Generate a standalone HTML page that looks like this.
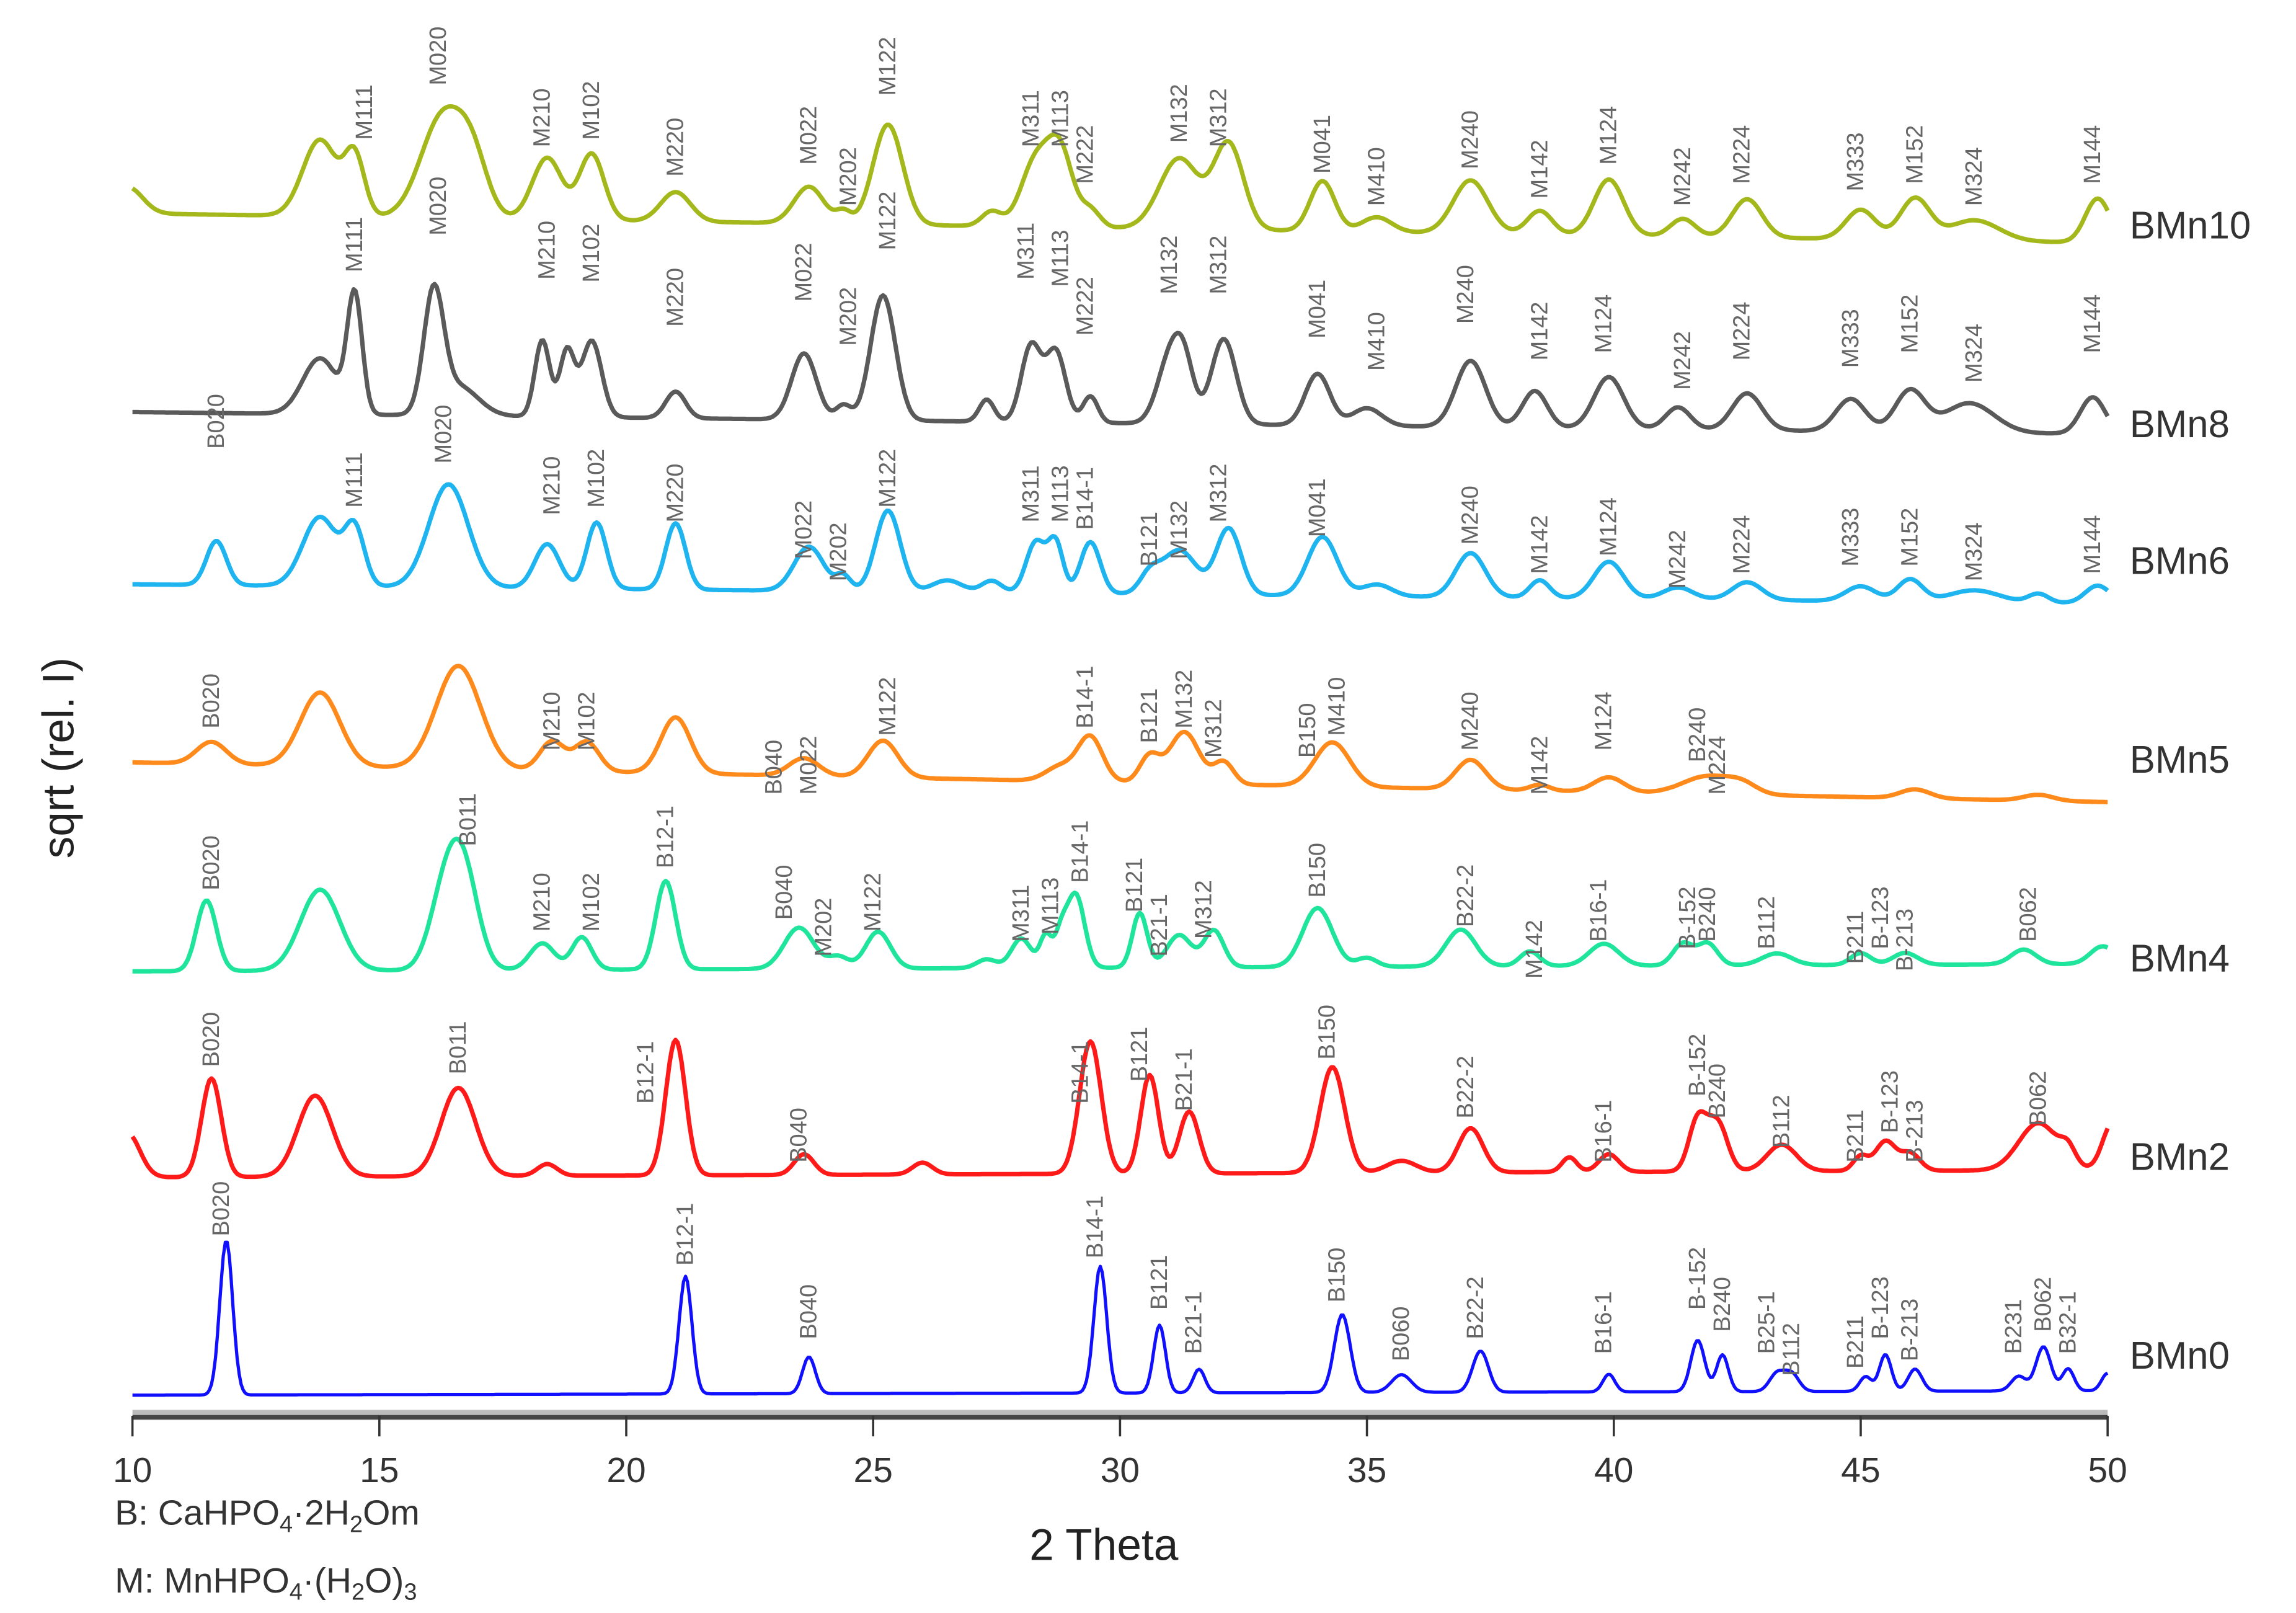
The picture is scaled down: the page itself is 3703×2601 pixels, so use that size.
<!DOCTYPE html>
<html><head><meta charset="utf-8">
<style>
html,body{margin:0;padding:0;background:#fff;}
svg{display:block;}
text{font-family:"Liberation Sans",sans-serif;}
</style></head>
<body>
<svg id="chart" width="3703" height="2601" viewBox="0 0 1560 1096" preserveAspectRatio="none" xmlns="http://www.w3.org/2000/svg">
  <rect width="1560" height="1096" fill="#fff"/>
  <g id="series-layer"></g>
  <g id="label-layer"></g>
  <g id="axis-layer"></g>
  <text transform="translate(50,515) rotate(-90)" text-anchor="middle" font-size="30" fill="#222">sqrt (rel. I)</text>
  <text x="750" y="1060" text-anchor="middle" font-size="30" fill="#222">2 Theta</text>
  <text x="78" y="1036" font-size="24" fill="#333">B: CaHPO<tspan font-size="16" dy="5">4</tspan><tspan dy="-5">·2H</tspan><tspan font-size="16" dy="5">2</tspan><tspan dy="-5">Om</tspan></text>
  <text x="78" y="1082" font-size="24" fill="#333">M: MnHPO<tspan font-size="16" dy="5">4</tspan><tspan dy="-5">·(H</tspan><tspan font-size="16" dy="5">2</tspan><tspan dy="-5">O)</tspan><tspan font-size="16" dy="5">3</tspan></text>
</svg>
<script>
// ---- data ----
const xTicks = [10,15,20,25,30,35,40,45,50];
const seriesNames = ["BMn10","BMn8","BMn6","BMn5","BMn4","BMn2","BMn0"];
const seriesColors = ["#a4b81c","#5a5a5a","#1db4f0","#ff8a1c","#1ee59b","#ff1a1a","#1010ff"];
const seriesLabelY = [162,297,390,525,660,795,930];
const baseStart = [145,280,397,518,660,800,948];
const baseEnd   = [165,295,410,545,655,795,945];

const pos10 = [9.9,13.8,14.5,16.3,16.9,18.4,19.3,21.0,23.7,24.4,25.3,27.4,28.3,28.8,29.4,31.2,32.2,34.1,35.2,37.1,38.5,39.9,41.4,42.7,45.0,46.1,47.3,49.8];
const hgt10 = [18,52,40,70,30,42,45,20,25,8,68,10,45,48,12,48,58,34,10,36,16,38,12,26,20,28,14,30];
const wid10 = [0.3,0.35,0.2,0.45,0.3,0.3,0.25,0.3,0.3,0.15,0.3,0.2,0.3,0.25,0.2,0.4,0.3,0.25,0.3,0.35,0.25,0.3,0.25,0.3,0.3,0.3,0.5,0.25];

const pos8 = [13.8,14.5,16.1,16.6,18.3,18.8,19.3,21.0,23.6,24.4,25.2,27.3,28.2,28.7,29.4,31.0,31.3,32.1,34.0,35.0,37.1,38.4,39.9,41.3,42.7,44.8,46.0,47.2,49.7];
const hgt8 = [38,80,80,20,52,45,52,18,45,10,85,15,52,48,18,42,35,58,35,12,45,25,35,15,25,22,28,20,25];
const wid8 = [0.35,0.15,0.2,0.4,0.15,0.15,0.2,0.2,0.25,0.15,0.25,0.15,0.2,0.2,0.15,0.25,0.2,0.25,0.25,0.3,0.3,0.25,0.3,0.25,0.3,0.3,0.3,0.5,0.25];

const pos6 = [11.7,13.8,14.5,16.4,18.4,19.4,21.0,23.7,24.4,25.3,26.5,27.4,28.3,28.7,29.4,30.6,31.2,32.2,34.1,35.2,37.1,38.5,39.9,41.3,42.7,45.0,46.0,47.3,48.6,49.8];
const hgt6 = [30,47,38,70,30,45,45,30,10,55,8,8,35,33,35,12,30,45,40,8,30,12,25,8,12,10,15,8,6,12];
const wid6 = [0.2,0.35,0.2,0.4,0.25,0.2,0.2,0.3,0.15,0.25,0.3,0.2,0.2,0.15,0.2,0.2,0.35,0.25,0.3,0.3,0.3,0.2,0.3,0.3,0.3,0.3,0.25,0.5,0.2,0.25];

const pos5 = [11.6,13.8,16.6,18.5,19.2,21.0,23.6,25.2,28.8,29.4,30.6,31.3,32.1,34.3,37.1,38.5,39.9,41.9,42.6,46.1,48.6];
const hgt5 = [15,50,70,20,20,38,12,25,10,30,18,35,15,30,20,4,10,12,6,6,4];
const wid5 = [0.3,0.4,0.45,0.25,0.25,0.3,0.3,0.3,0.3,0.25,0.2,0.3,0.2,0.35,0.3,0.2,0.3,0.5,0.3,0.3,0.3];

const pos4 = [11.5,13.8,16.3,16.7,18.3,19.1,20.8,23.5,24.3,25.1,27.3,28.0,28.5,28.8,29.1,30.4,31.2,31.9,34.0,35.0,36.9,38.3,39.8,41.4,41.9,43.3,45.0,45.9,48.3,49.9];
const hgt4 = [48,55,45,65,18,22,60,28,8,25,6,20,22,20,50,37,22,25,40,6,25,10,15,15,15,8,8,8,10,12];
const wid4 = [0.2,0.4,0.3,0.3,0.25,0.2,0.2,0.3,0.2,0.25,0.2,0.2,0.12,0.12,0.18,0.15,0.25,0.2,0.3,0.2,0.3,0.2,0.3,0.2,0.2,0.3,0.2,0.25,0.25,0.25];

const pos2 = [9.9,11.6,13.7,16.6,18.4,21.0,23.6,26.0,29.4,30.6,31.4,34.3,35.7,37.1,39.1,39.9,41.7,42.1,43.4,45.0,45.5,46.0,48.6,49.2,50.1];
const hgt2 = [30,67,55,60,8,92,14,8,90,67,42,72,8,30,10,12,35,33,18,10,20,12,32,10,32];
const wid2 = [0.25,0.2,0.35,0.35,0.2,0.2,0.2,0.2,0.22,0.18,0.2,0.25,0.3,0.25,0.15,0.2,0.18,0.2,0.3,0.15,0.2,0.2,0.4,0.15,0.2];

const pos0 = [11.9,21.2,23.7,29.6,30.8,31.6,34.5,35.7,37.3,39.9,41.7,42.2,43.3,43.6,45.1,45.5,46.1,48.2,48.7,49.2,50.0];
const hgt0 = [105,80,25,86,46,16,53,12,28,12,35,25,12,12,10,25,15,10,30,15,12];
const wid0 = [0.13,0.13,0.13,0.13,0.12,0.12,0.16,0.2,0.16,0.12,0.14,0.12,0.15,0.15,0.12,0.12,0.14,0.15,0.15,0.12,0.12];

const peakPos = [pos10,pos8,pos6,pos5,pos4,pos2,pos0];
const peakHgt = [hgt10,hgt8,hgt6,hgt5,hgt4,hgt2,hgt0];
const peakWid = [wid10,wid8,wid6,wid5,wid4,wid2,wid0];

const lab10 = ["M111","M020","M210","M102","M220","M022","M202","M122","M311","M113","M222","M132","M312","M041","M410","M240","M142","M124","M242","M224","M333","M152","M324","M144"];
const labX10 = [14.7,16.2,18.3,19.3,21.0,23.7,24.5,25.3,28.2,28.8,29.3,31.2,32.0,34.1,35.2,37.1,38.5,39.9,41.4,42.6,44.9,46.1,47.3,49.7];
const labY10 = [95,58,100,95,120,112,140,65,100,100,125,97,100,118,140,115,135,112,140,125,130,125,140,125];

const lab8 = ["M111","M020","M210","M102","M220","M022","M202","M122","M311","M113","M222","M132","M312","M041","M410","M240","M142","M124","M242","M224","M333","M152","M324","M144"];
const labX8 = [14.5,16.2,18.4,19.3,21.0,23.6,24.5,25.3,28.1,28.8,29.3,31.0,32.0,34.0,35.2,37.0,38.5,39.8,41.4,42.6,44.8,46.0,47.3,49.7];
const labY8 = [185,160,190,192,222,205,235,170,190,195,228,200,200,230,252,220,245,240,265,245,250,240,260,240];

const lab6 = ["B020","M111","M020","M210","M102","M220","M022","M202","M122","M311","M113","B14-1","B121","M132","M312","M041","M240","M142","M124","M242","M224","M333","M152","M324","M144"];
const labX6 = [11.7,14.5,16.3,18.5,19.4,21.0,23.6,24.3,25.3,28.2,28.8,29.3,30.6,31.2,32.0,34.0,37.1,38.5,39.9,41.3,42.6,44.8,46.0,47.3,49.7];
const labY6 = [305,345,315,350,345,355,380,395,345,355,355,360,385,380,355,365,370,390,378,400,390,385,385,395,390];

const lab5 = ["B020","M210","M102","B040","M022","M122","B14-1","B121","M132","M312","B150","M410","M240","M142","M124","B240","M224"];
const labX5 = [11.6,18.5,19.2,23.0,23.7,25.3,29.3,30.6,31.3,31.9,33.8,34.4,37.1,38.5,39.8,41.7,42.1];
const labY5 = [495,510,510,540,540,500,495,505,495,515,515,500,510,540,510,518,540];

const lab4 = ["B020","B011","M210","M102","B12-1","B040","M202","M122","M311","M113","B14-1","B121","B21-1","M312","B150","B22-2","M142","B16-1","B-152","B240","B112","B211","B-123","B-213","B062"];
const labX4 = [11.6,16.8,18.3,19.3,20.8,23.2,24.0,25.0,28.0,28.6,29.2,30.3,30.8,31.7,34.0,37.0,38.4,39.7,41.5,41.9,43.1,44.9,45.4,45.9,48.4];
const labY4 = [605,575,633,633,590,625,650,633,640,635,600,620,650,638,610,630,665,640,645,640,645,655,645,660,640];

const lab2 = ["B020","B011","B12-1","B040","B14-1","B121","B21-1","B150","B22-2","B16-1","B-152","B240","B112","B211","B-123","B-213","B062"];
const labX2 = [11.6,16.6,20.4,23.5,29.2,30.4,31.3,34.2,37.0,39.8,41.7,42.1,43.4,44.9,45.6,46.1,48.6];
const labY2 = [725,730,750,790,750,735,755,720,760,790,745,760,780,790,770,790,765];

const lab0 = ["B020","B12-1","B040","B14-1","B121","B21-1","B150","B060","B22-2","B16-1","B-152","B240","B25-1","B112","B211","B-123","B-213","B231","B062","B32-1"];
const labX0 = [11.8,21.2,23.7,29.5,30.8,31.5,34.4,35.7,37.2,39.8,41.7,42.2,43.1,43.6,44.9,45.4,46.0,48.1,48.7,49.2];
const labY0 = [840,860,910,855,890,920,885,925,910,920,890,905,920,935,930,910,925,920,905,920];

const labNames = [lab10,lab8,lab6,lab5,lab4,lab2,lab0];
const labXs = [labX10,labX8,labX6,labX5,labX4,labX2,labX0];
const labYs = [labY10,labY8,labY6,labY5,labY4,labY2,labY0];

// ---- drawing ----
const NS = "http://www.w3.org/2000/svg";
const X0 = 90, X1 = 1432, AXY = 962;
function xs(v){ return X0 + (v - 10) * (X1 - X0) / 40; }

const sl = document.getElementById('series-layer');
const ll = document.getElementById('label-layer');
const al = document.getElementById('axis-layer');

for (let s = 0; s < seriesNames.length; s++) {
  const P = peakPos[s], H = peakHgt[s], W = peakWid[s];
  let d = "";
  for (let t = 10; t <= 50.0001; t += 0.04) {
    let y = baseStart[s] + (baseEnd[s] - baseStart[s]) * (t - 10) / 40;
    for (let k = 0; k < P.length; k++) {
      const z = (t - P[k]) / W[k];
      y -= H[k] * Math.exp(-0.5 * z * z);
    }
    d += (d ? "L" : "M") + xs(t).toFixed(1) + " " + y.toFixed(1);
  }
  const path = document.createElementNS(NS, 'path');
  path.setAttribute('d', d);
  path.setAttribute('fill', 'none');
  path.setAttribute('stroke', seriesColors[s]);
  path.setAttribute('stroke-width', s === 6 ? '2.2' : '3');
  path.setAttribute('stroke-linejoin', 'round');
  
  
  sl.appendChild(path);

  const nm = document.createElementNS(NS, 'text');
  nm.setAttribute('x', 1447);
  nm.setAttribute('y', seriesLabelY[s]);
  nm.setAttribute('font-size', '26');
  nm.setAttribute('fill', '#333');
  nm.textContent = seriesNames[s];
  
  
  sl.appendChild(nm);

  const names = labNames[s], lx = labXs[s], ly = labYs[s];
  for (let i = 0; i < names.length; i++) {
    const tx = document.createElementNS(NS, 'text');
    const x = xs(lx[i]) + 5;
    tx.setAttribute('transform', 'translate(' + x.toFixed(1) + ',' + ly[i] + ') rotate(-90)');
    tx.setAttribute('font-size', '16');
    tx.setAttribute('fill', '#666');
    tx.textContent = names[i];
    
    
    ll.appendChild(tx);
  }
}

// axis
const bar = document.createElementNS(NS, 'rect');
bar.setAttribute('x', X0); bar.setAttribute('y', AXY - 4);
bar.setAttribute('width', X1 - X0); bar.setAttribute('height', 7);
bar.setAttribute('fill', '#bbb');


al.appendChild(bar);
const axl = document.createElementNS(NS, 'line');
axl.setAttribute('x1', X0); axl.setAttribute('x2', X1);
axl.setAttribute('y1', AXY + 1); axl.setAttribute('y2', AXY + 1);
axl.setAttribute('stroke', '#444'); axl.setAttribute('stroke-width', '3');


al.appendChild(axl);
for (const v of xTicks) {
  const tk = document.createElementNS(NS, 'line');
  tk.setAttribute('x1', xs(v)); tk.setAttribute('x2', xs(v));
  tk.setAttribute('y1', AXY); tk.setAttribute('y2', AXY + 14);
  tk.setAttribute('stroke', '#333'); tk.setAttribute('stroke-width', '1.5');
  
  
  al.appendChild(tk);
  const lb = document.createElementNS(NS, 'text');
  lb.setAttribute('x', xs(v)); lb.setAttribute('y', 1007);
  lb.setAttribute('text-anchor', 'middle');
  lb.setAttribute('font-size', '24'); lb.setAttribute('fill', '#333');
  lb.textContent = v;
  
  
  al.appendChild(lb);
}
</script>
</body></html>
